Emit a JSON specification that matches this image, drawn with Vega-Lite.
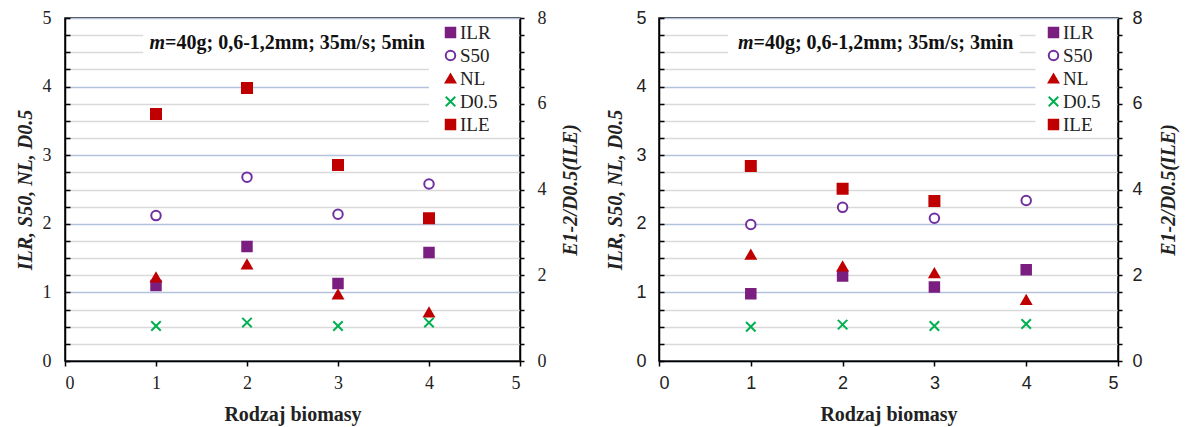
{
  "$schema": "https://vega.github.io/schema/vega-lite/v6.json",
  "padding": {"left": 14, "top": 8, "right": 1, "bottom": 2},
  "spacing": 24,
  "background": "white",
  "config": {
    "font": "Liberation Serif",
    "view": {"stroke": "black", "strokeWidth": 1.5},
    "axis": {"domainColor": "black", "domainWidth": 1.5, "tickColor": "black", "tickWidth": 1.5, "labelColor": "#222", "titleColor": "#222", "labelOverlap": false},
    "legend": {"labelColor": "#222"}
  },
  "datasets": {
    "pts": [
      {"panel": "5min", "series": "ILR", "x": 1, "v": 1.1},
      {"panel": "5min", "series": "ILR", "x": 2, "v": 1.67},
      {"panel": "5min", "series": "ILR", "x": 3, "v": 1.13},
      {"panel": "5min", "series": "ILR", "x": 4, "v": 1.58},
      {"panel": "5min", "series": "S50", "x": 1, "v": 2.12},
      {"panel": "5min", "series": "S50", "x": 2, "v": 2.68},
      {"panel": "5min", "series": "S50", "x": 3, "v": 2.14},
      {"panel": "5min", "series": "S50", "x": 4, "v": 2.58},
      {"panel": "5min", "series": "NL", "x": 1, "v": 1.22},
      {"panel": "5min", "series": "NL", "x": 2, "v": 1.41},
      {"panel": "5min", "series": "NL", "x": 3, "v": 0.97},
      {"panel": "5min", "series": "NL", "x": 4, "v": 0.71},
      {"panel": "5min", "series": "D0.5", "x": 1, "v": 0.51},
      {"panel": "5min", "series": "D0.5", "x": 2, "v": 0.56},
      {"panel": "5min", "series": "D0.5", "x": 3, "v": 0.51},
      {"panel": "5min", "series": "D0.5", "x": 4, "v": 0.56},
      {"panel": "5min", "series": "ILE", "x": 1, "v": 5.76},
      {"panel": "5min", "series": "ILE", "x": 2, "v": 6.37},
      {"panel": "5min", "series": "ILE", "x": 3, "v": 4.57},
      {"panel": "5min", "series": "ILE", "x": 4, "v": 3.33},
      {"panel": "3min", "series": "ILR", "x": 1, "v": 0.98},
      {"panel": "3min", "series": "ILR", "x": 2, "v": 1.24},
      {"panel": "3min", "series": "ILR", "x": 3, "v": 1.08},
      {"panel": "3min", "series": "ILR", "x": 4, "v": 1.33},
      {"panel": "3min", "series": "S50", "x": 1, "v": 1.99},
      {"panel": "3min", "series": "S50", "x": 2, "v": 2.24},
      {"panel": "3min", "series": "S50", "x": 3, "v": 2.08},
      {"panel": "3min", "series": "S50", "x": 4, "v": 2.34},
      {"panel": "3min", "series": "NL", "x": 1, "v": 1.55},
      {"panel": "3min", "series": "NL", "x": 2, "v": 1.38},
      {"panel": "3min", "series": "NL", "x": 3, "v": 1.28},
      {"panel": "3min", "series": "NL", "x": 4, "v": 0.89},
      {"panel": "3min", "series": "D0.5", "x": 1, "v": 0.5},
      {"panel": "3min", "series": "D0.5", "x": 2, "v": 0.53},
      {"panel": "3min", "series": "D0.5", "x": 3, "v": 0.51},
      {"panel": "3min", "series": "D0.5", "x": 4, "v": 0.54},
      {"panel": "3min", "series": "ILE", "x": 1, "v": 4.55},
      {"panel": "3min", "series": "ILE", "x": 2, "v": 4.02},
      {"panel": "3min", "series": "ILE", "x": 3, "v": 3.73}
    ]
  },
  "resolve": {"scale": {"fill": "independent", "stroke": "independent", "shape": "independent"}, "legend": {"fill": "independent", "stroke": "independent", "shape": "independent"}},
  "hconcat": [
    {
      "width": 455,
      "height": 343,
      "resolve": {"scale": {"y": "independent"}},
      "layer": [
        {
          "data": {"values": [{"box": "title"}]},
          "mark": {"type": "rect", "fill": "white"},
          "encoding": {
            "x": {"datum": 0.86, "type": "quantitative", "title": "Rodzaj biomasy"},
            "x2": {"datum": 4.0},
            "y": {"datum": 4.35, "type": "quantitative", "scale": {"domain": [0, 5], "nice": false}, "axis": null},
            "y2": {"datum": 4.93}
          }
        },
        {
          "data": {"values": [{"box": "legend"}]},
          "mark": {"type": "rect", "fill": "white"},
          "encoding": {
            "x": {"datum": 4.0, "type": "quantitative", "title": "Rodzaj biomasy"},
            "x2": {"datum": 4.98},
            "y": {"datum": 3.4, "type": "quantitative", "scale": {"domain": [0, 5], "nice": false}, "axis": null},
            "y2": {"datum": 4.93}
          }
        },
        {
          "data": {"values": [{"label": "m"}]},
          "mark": {"type": "text", "align": "right", "baseline": "middle", "fontSize": 20, "fontWeight": "bold", "fontStyle": "italic", "color": "#111"},
          "encoding": {
            "x": {"datum": 1.1, "type": "quantitative", "title": "Rodzaj biomasy"},
            "y": {"datum": 4.64, "type": "quantitative", "scale": {"domain": [0, 5], "nice": false}, "axis": null},
            "text": {"field": "label"}
          }
        },
        {
          "data": {"values": [{"label": "=40g; 0,6-1,2mm; 35m/s; 5min"}]},
          "mark": {"type": "text", "align": "left", "baseline": "middle", "fontSize": 20, "fontWeight": "bold", "color": "#111"},
          "encoding": {
            "x": {"datum": 1.1, "type": "quantitative", "title": "Rodzaj biomasy"},
            "y": {"datum": 4.64, "type": "quantitative", "scale": {"domain": [0, 5], "nice": false}, "axis": null},
            "text": {"field": "label"}
          }
        },
        {
          "data": {"name": "pts"},
          "transform": [{"filter": "datum.panel === '5min' && datum.series !== 'ILE'"}],
          "mark": {"type": "point", "opacity": 1, "strokeWidth": 2, "size": 90},
          "encoding": {
            "x": {"field": "x", "type": "quantitative", "title": "Rodzaj biomasy", "scale": {"domain": [0, 5], "nice": false},
              "axis": {"values": [0, 1, 2, 3, 4, 5], "labelExpr": "'' + datum.value", "grid": false, "tickSize": 5, "labelFont": "Liberation Serif", "labelFontSize": 18, "labelPadding": 8, "titleFont": "Liberation Serif", "titleFontSize": 20, "titleFontWeight": "bold", "titlePadding": 12}},
            "y": {"field": "v", "type": "quantitative", "scale": {"domain": [0, 5], "nice": false},
              "axis": {"orient": "left", "values": [0, 0.25, 0.5, 0.75, 1, 1.25, 1.5, 1.75, 2, 2.25, 2.5, 2.75, 3, 3.25, 3.5, 3.75, 4, 4.25, 4.5, 4.75, 5],
                "labelExpr": "datum.value % 1 === 0 ? '' + datum.value : ''", "grid": true,
                "gridColor": {"condition": {"test": "datum.value % 1 === 0", "value": "#B4C2DC"}, "value": "#D9D9D9"}, "gridWidth": 1.6,
                "tickSize": -5, "labelPadding": 19, "labelFont": "Liberation Serif", "labelFontSize": 18,
                "title": "ILR, S50, NL, D0.5", "titleFont": "Liberation Serif", "titleFontSize": 20, "titleFontWeight": "bold", "titleFontStyle": "italic", "titlePadding": 7}},
            "fill": {"field": "series", "type": "nominal", "scale": {"domain": ["ILR", "S50", "NL", "D0.5", "ILE"], "range": ["#7A1F80", "white", "#C00000", "transparent", "#C00000"]},
              "legend": {"orient": "none", "legendX": 376, "legendY": 5, "title": null, "padding": 0, "rowPadding": 3, "labelOffset": 0, "symbolSize": 90, "symbolStrokeWidth": 2, "labelFont": "Liberation Serif", "labelFontSize": 19}},
            "stroke": {"field": "series", "type": "nominal", "scale": {"domain": ["ILR", "S50", "NL", "D0.5", "ILE"], "range": ["#7A1F80", "#7030A0", "#C00000", "#00B050", "#C00000"]},
              "legend": {"orient": "none", "legendX": 376, "legendY": 5, "title": null, "padding": 0, "rowPadding": 3, "labelOffset": 0, "symbolSize": 90, "symbolStrokeWidth": 2, "labelFont": "Liberation Serif", "labelFontSize": 19}},
            "shape": {"field": "series", "type": "nominal", "scale": {"domain": ["ILR", "S50", "NL", "D0.5", "ILE"], "range": ["square", "circle", "triangle-up", "M-1,-1L1,1M1,-1L-1,1", "square"]},
              "legend": {"orient": "none", "legendX": 376, "legendY": 5, "title": null, "padding": 0, "rowPadding": 3, "labelOffset": 0, "symbolSize": 90, "symbolStrokeWidth": 2, "labelFont": "Liberation Serif", "labelFontSize": 19}}
          }
        },
        {
          "data": {"name": "pts"},
          "transform": [{"filter": "datum.panel === '5min' && datum.series === 'ILE'"}],
          "mark": {"type": "point", "opacity": 1, "strokeWidth": 2, "size": 100},
          "encoding": {
            "x": {"field": "x", "type": "quantitative", "title": "Rodzaj biomasy", "scale": {"domain": [0, 5], "nice": false}},
            "y": {"field": "v", "type": "quantitative", "scale": {"domain": [0, 8], "nice": false},
              "axis": {"orient": "right", "values": [0, 0.4, 0.8, 1.2, 1.6, 2, 2.4, 2.8, 3.2, 3.6, 4, 4.4, 4.8, 5.2, 5.6, 6, 6.4, 6.8, 7.2, 7.6, 8],
                "labelExpr": "datum.value % 2 === 0 ? '' + datum.value : ''", "grid": false, "tickSize": 4, "labelPadding": 13,
                "labelFont": "Liberation Serif", "labelFontSize": 18,
                "title": "E1-2/D0.5(ILE)", "titleAngle": 270, "titleBaseline": "top", "titleFont": "Liberation Serif", "titleFontSize": 20, "titleFontWeight": "bold", "titleFontStyle": "italic", "titlePadding": 14}},
            "fill": {"field": "series", "type": "nominal", "scale": {"domain": ["ILR", "S50", "NL", "D0.5", "ILE"], "range": ["#7A1F80", "white", "#C00000", "transparent", "#C00000"]},
              "legend": {"orient": "none", "legendX": 376, "legendY": 5, "title": null, "padding": 0, "rowPadding": 3, "labelOffset": 0, "symbolSize": 90, "symbolStrokeWidth": 2, "labelFont": "Liberation Serif", "labelFontSize": 19}},
            "stroke": {"field": "series", "type": "nominal", "scale": {"domain": ["ILR", "S50", "NL", "D0.5", "ILE"], "range": ["#7A1F80", "#7030A0", "#C00000", "#00B050", "#C00000"]},
              "legend": {"orient": "none", "legendX": 376, "legendY": 5, "title": null, "padding": 0, "rowPadding": 3, "labelOffset": 0, "symbolSize": 90, "symbolStrokeWidth": 2, "labelFont": "Liberation Serif", "labelFontSize": 19}},
            "shape": {"field": "series", "type": "nominal", "scale": {"domain": ["ILR", "S50", "NL", "D0.5", "ILE"], "range": ["square", "circle", "triangle-up", "M-1,-1L1,1M1,-1L-1,1", "square"]},
              "legend": {"orient": "none", "legendX": 376, "legendY": 5, "title": null, "padding": 0, "rowPadding": 3, "labelOffset": 0, "symbolSize": 90, "symbolStrokeWidth": 2, "labelFont": "Liberation Serif", "labelFontSize": 19}}
          }
        }
      ]
    },
    {
      "width": 459,
      "height": 343,
      "resolve": {"scale": {"y": "independent"}},
      "layer": [
        {
          "data": {"values": [{"box": "title"}]},
          "mark": {"type": "rect", "fill": "white"},
          "encoding": {
            "x": {"datum": 0.75, "type": "quantitative", "title": "Rodzaj biomasy"},
            "x2": {"datum": 3.93},
            "y": {"datum": 4.35, "type": "quantitative", "scale": {"domain": [0, 5], "nice": false}, "axis": null},
            "y2": {"datum": 4.93}
          }
        },
        {
          "data": {"values": [{"box": "legend"}]},
          "mark": {"type": "rect", "fill": "white"},
          "encoding": {
            "x": {"datum": 4.1, "type": "quantitative", "title": "Rodzaj biomasy"},
            "x2": {"datum": 4.98},
            "y": {"datum": 3.4, "type": "quantitative", "scale": {"domain": [0, 5], "nice": false}, "axis": null},
            "y2": {"datum": 4.93}
          }
        },
        {
          "data": {"values": [{"label": "m"}]},
          "mark": {"type": "text", "align": "right", "baseline": "middle", "fontSize": 20, "fontWeight": "bold", "fontStyle": "italic", "color": "#111"},
          "encoding": {
            "x": {"datum": 1.03, "type": "quantitative", "title": "Rodzaj biomasy"},
            "y": {"datum": 4.64, "type": "quantitative", "scale": {"domain": [0, 5], "nice": false}, "axis": null},
            "text": {"field": "label"}
          }
        },
        {
          "data": {"values": [{"label": "=40g; 0,6-1,2mm; 35m/s; 3min"}]},
          "mark": {"type": "text", "align": "left", "baseline": "middle", "fontSize": 20, "fontWeight": "bold", "color": "#111"},
          "encoding": {
            "x": {"datum": 1.03, "type": "quantitative", "title": "Rodzaj biomasy"},
            "y": {"datum": 4.64, "type": "quantitative", "scale": {"domain": [0, 5], "nice": false}, "axis": null},
            "text": {"field": "label"}
          }
        },
        {
          "data": {"name": "pts"},
          "transform": [{"filter": "datum.panel === '3min' && datum.series !== 'ILE'"}],
          "mark": {"type": "point", "opacity": 1, "strokeWidth": 2, "size": 90},
          "encoding": {
            "x": {"field": "x", "type": "quantitative", "title": "Rodzaj biomasy", "scale": {"domain": [0, 5], "nice": false},
              "axis": {"values": [0, 1, 2, 3, 4, 5], "labelExpr": "'' + datum.value", "grid": false, "tickSize": 5, "labelFont": "Liberation Sans", "labelFontSize": 18, "labelPadding": 8, "titleFont": "Liberation Serif", "titleFontSize": 20, "titleFontWeight": "bold", "titlePadding": 12}},
            "y": {"field": "v", "type": "quantitative", "scale": {"domain": [0, 5], "nice": false},
              "axis": {"orient": "left", "values": [0, 0.25, 0.5, 0.75, 1, 1.25, 1.5, 1.75, 2, 2.25, 2.5, 2.75, 3, 3.25, 3.5, 3.75, 4, 4.25, 4.5, 4.75, 5],
                "labelExpr": "datum.value % 1 === 0 ? '' + datum.value : ''", "grid": true,
                "gridColor": {"condition": {"test": "datum.value % 1 === 0", "value": "#B4C2DC"}, "value": "#D9D9D9"}, "gridWidth": 1.6,
                "tickSize": -5, "labelPadding": 18, "labelFont": "Liberation Sans", "labelFontSize": 18,
                "title": "ILR, S50, NL, D0.5", "titleFont": "Liberation Serif", "titleFontSize": 20, "titleFontWeight": "bold", "titleFontStyle": "italic", "titlePadding": 10}},
            "fill": {"field": "series", "type": "nominal", "scale": {"domain": ["ILR", "S50", "NL", "D0.5", "ILE"], "range": ["#7A1F80", "white", "#C00000", "transparent", "#C00000"]},
              "legend": {"orient": "none", "legendX": 385, "legendY": 5, "title": null, "padding": 0, "rowPadding": 3, "labelOffset": 0, "symbolSize": 90, "symbolStrokeWidth": 2, "labelFont": "Liberation Serif", "labelFontSize": 19}},
            "stroke": {"field": "series", "type": "nominal", "scale": {"domain": ["ILR", "S50", "NL", "D0.5", "ILE"], "range": ["#7A1F80", "#7030A0", "#C00000", "#00B050", "#C00000"]},
              "legend": {"orient": "none", "legendX": 385, "legendY": 5, "title": null, "padding": 0, "rowPadding": 3, "labelOffset": 0, "symbolSize": 90, "symbolStrokeWidth": 2, "labelFont": "Liberation Serif", "labelFontSize": 19}},
            "shape": {"field": "series", "type": "nominal", "scale": {"domain": ["ILR", "S50", "NL", "D0.5", "ILE"], "range": ["square", "circle", "triangle-up", "M-1,-1L1,1M1,-1L-1,1", "square"]},
              "legend": {"orient": "none", "legendX": 385, "legendY": 5, "title": null, "padding": 0, "rowPadding": 3, "labelOffset": 0, "symbolSize": 90, "symbolStrokeWidth": 2, "labelFont": "Liberation Serif", "labelFontSize": 19}}
          }
        },
        {
          "data": {"name": "pts"},
          "transform": [{"filter": "datum.panel === '3min' && datum.series === 'ILE'"}],
          "mark": {"type": "point", "opacity": 1, "strokeWidth": 2, "size": 100},
          "encoding": {
            "x": {"field": "x", "type": "quantitative", "title": "Rodzaj biomasy", "scale": {"domain": [0, 5], "nice": false}},
            "y": {"field": "v", "type": "quantitative", "scale": {"domain": [0, 8], "nice": false},
              "axis": {"orient": "right", "values": [0, 0.4, 0.8, 1.2, 1.6, 2, 2.4, 2.8, 3.2, 3.6, 4, 4.4, 4.8, 5.2, 5.6, 6, 6.4, 6.8, 7.2, 7.6, 8],
                "labelExpr": "datum.value % 2 === 0 ? '' + datum.value : ''", "grid": false, "tickSize": 4, "labelPadding": 10,
                "labelFont": "Liberation Sans", "labelFontSize": 18,
                "title": "E1-2/D0.5(ILE)", "titleAngle": 270, "titleBaseline": "top", "titleFont": "Liberation Serif", "titleFontSize": 20, "titleFontWeight": "bold", "titleFontStyle": "italic", "titlePadding": 16}},
            "fill": {"field": "series", "type": "nominal", "scale": {"domain": ["ILR", "S50", "NL", "D0.5", "ILE"], "range": ["#7A1F80", "white", "#C00000", "transparent", "#C00000"]},
              "legend": {"orient": "none", "legendX": 385, "legendY": 5, "title": null, "padding": 0, "rowPadding": 3, "labelOffset": 0, "symbolSize": 90, "symbolStrokeWidth": 2, "labelFont": "Liberation Serif", "labelFontSize": 19}},
            "stroke": {"field": "series", "type": "nominal", "scale": {"domain": ["ILR", "S50", "NL", "D0.5", "ILE"], "range": ["#7A1F80", "#7030A0", "#C00000", "#00B050", "#C00000"]},
              "legend": {"orient": "none", "legendX": 385, "legendY": 5, "title": null, "padding": 0, "rowPadding": 3, "labelOffset": 0, "symbolSize": 90, "symbolStrokeWidth": 2, "labelFont": "Liberation Serif", "labelFontSize": 19}},
            "shape": {"field": "series", "type": "nominal", "scale": {"domain": ["ILR", "S50", "NL", "D0.5", "ILE"], "range": ["square", "circle", "triangle-up", "M-1,-1L1,1M1,-1L-1,1", "square"]},
              "legend": {"orient": "none", "legendX": 385, "legendY": 5, "title": null, "padding": 0, "rowPadding": 3, "labelOffset": 0, "symbolSize": 90, "symbolStrokeWidth": 2, "labelFont": "Liberation Serif", "labelFontSize": 19}}
          }
        }
      ]
    }
  ]
}
